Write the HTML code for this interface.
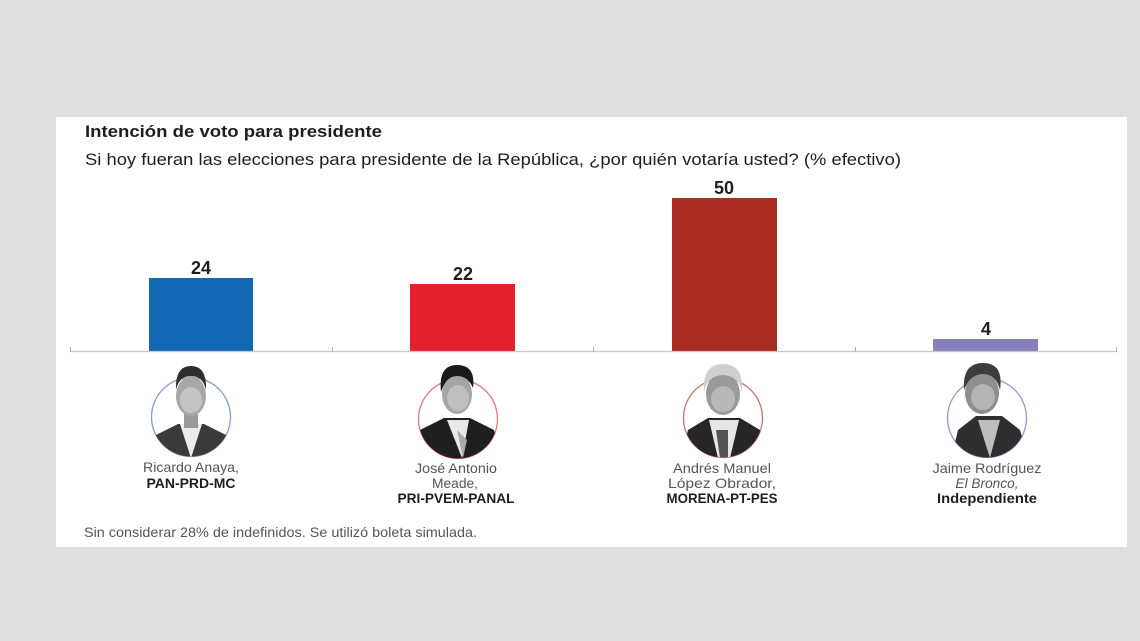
<!DOCTYPE html>
<html><head><meta charset="utf-8">
<style>
html,body{margin:0;padding:0;background:#e0e0e0;}
svg{display:block;}
text{font-family:"Liberation Sans",sans-serif;}
</style></head>
<body>
<svg width="1140" height="641" viewBox="0 0 1140 641" xmlns="http://www.w3.org/2000/svg">
<defs>
<clipPath id="c1"><circle cx="191" cy="417" r="39.5"/></clipPath>
<clipPath id="c2"><circle cx="458" cy="419" r="39.5"/></clipPath>
<clipPath id="c3"><circle cx="723" cy="418" r="39.5"/></clipPath>
<clipPath id="c4"><circle cx="987" cy="418" r="39.5"/></clipPath>
</defs>
<rect x="0" y="0" width="1140" height="641" fill="#e0e0e0"/>
<rect x="56" y="117" width="1071" height="430" fill="#ffffff"/>

<text x="85" y="137" font-size="17" font-weight="bold" fill="#1e1e1e" textLength="297" lengthAdjust="spacingAndGlyphs">Intención de voto para presidente</text>
<text x="85" y="165" font-size="17" fill="#1e1e1e" textLength="816" lengthAdjust="spacingAndGlyphs">Si hoy fueran las elecciones para presidente de la República, ¿por quién votaría usted? (% efectivo)</text>

<!-- bars -->
<rect x="149" y="278" width="104" height="73" fill="#1268b3"/>
<rect x="410" y="284" width="105" height="67" fill="#e3202e"/>
<rect x="672" y="198" width="105" height="153" fill="#a92d22"/>
<rect x="933" y="339" width="105" height="12" fill="#8680bb"/>

<g font-size="18" font-weight="bold" fill="#1e1e1e" text-anchor="middle">
<text x="201" y="274">24</text>
<text x="463" y="280">22</text>
<text x="724" y="194">50</text>
<text x="986" y="335">4</text>
</g>

<!-- axis -->
<line x1="70" y1="351.5" x2="1117" y2="351.5" stroke="#c8c8c8" stroke-width="1.2"/>
<g stroke="#b0b0b0" stroke-width="1">
<line x1="70.5" y1="347" x2="70.5" y2="352"/>
<line x1="332.5" y1="347" x2="332.5" y2="352"/>
<line x1="593.5" y1="347" x2="593.5" y2="352"/>
<line x1="855.5" y1="347" x2="855.5" y2="352"/>
<line x1="1116.5" y1="347" x2="1116.5" y2="352"/>
</g>

<!-- portrait 1 -->
<circle cx="191" cy="417" r="39.5" fill="#fff" stroke="#7f9fd0" stroke-width="1.3"/>
<g clip-path="url(#c1)">
<path d="M148 462 L154 436 L178 424 L204 424 L228 436 L234 462 Z" fill="#3a3a3a"/>
<path d="M180 424 L191 458 L202 424 Z" fill="#ececec"/>
</g>
<rect x="184" y="410" width="14" height="18" fill="#999"/>
<ellipse cx="191" cy="396" rx="15" ry="20" fill="#a8a8a8"/>
<ellipse cx="191" cy="400" rx="11" ry="13" fill="#c4c4c4"/>
<path d="M176 390 Q175 366 191 366 Q207 366 206 390 Q203 376 191 376 Q179 376 176 390 Z" fill="#2e2e2e"/>

<!-- portrait 2 -->
<circle cx="458" cy="419" r="39.5" fill="#fff" stroke="#e8767a" stroke-width="1.3"/>
<g clip-path="url(#c2)">
<path d="M413 464 L420 430 L444 418 L470 418 L494 430 L504 464 Z" fill="#1f1f1f"/>
<path d="M447 420 L462 458 L469 420 Z" fill="#e8e8e8"/>
<path d="M457 430 L463 458 L467 440 Z" fill="#aaa"/>
</g>
<ellipse cx="457" cy="394" rx="15" ry="20" fill="#a5a5a5"/>
<ellipse cx="458" cy="398" rx="11" ry="13" fill="#bfbfbf"/>
<path d="M441 392 Q438 365 457 365 Q476 365 473 388 Q468 376 457 376 Q446 376 441 392 Z" fill="#1a1a1a"/>

<!-- portrait 3 -->
<circle cx="723" cy="418" r="39.5" fill="#fff" stroke="#c8746d" stroke-width="1.3"/>
<g clip-path="url(#c3)">
<path d="M680 464 L688 430 L708 418 L740 418 L760 430 L768 464 Z" fill="#262626"/>
<path d="M709 420 L718 458 L730 458 L739 420 Z" fill="#e6e6e6"/>
<path d="M716 430 L720 458 L728 458 L728 430 Z" fill="#555"/>
</g>
<ellipse cx="723" cy="394" rx="17" ry="21" fill="#9a9a9a"/>
<ellipse cx="723" cy="399" rx="12" ry="13" fill="#b8b8b8"/>
<path d="M704 392 Q702 364 723 364 Q744 364 742 392 Q739 376 723 375 Q707 376 704 392 Z" fill="#cfcfcf"/>

<!-- portrait 4 -->
<circle cx="987" cy="418" r="39.5" fill="#fff" stroke="#9d94d2" stroke-width="1.3"/>
<g clip-path="url(#c4)">
<path d="M950 464 L958 430 L976 416 L1002 416 L1020 430 L1030 464 Z" fill="#2e2e2e"/>
<path d="M978 420 L990 458 L1000 420 Z" fill="#bdbdbd"/>
</g>
<ellipse cx="982" cy="393" rx="17" ry="21" fill="#8e8e8e"/>
<ellipse cx="983" cy="397" rx="12" ry="13" fill="#b5b5b5"/>
<path d="M964 390 Q962 363 983 363 Q1004 363 1000 390 Q996 374 983 374 Q970 374 964 390 Z" fill="#3c3c3c"/>

<!-- names -->
<g font-size="14" fill="#555" text-anchor="middle">
<text x="191" y="472" textLength="96" lengthAdjust="spacingAndGlyphs">Ricardo Anaya,</text>
<text x="456" y="473" textLength="82" lengthAdjust="spacingAndGlyphs">José Antonio</text>
<text x="455" y="488" textLength="46" lengthAdjust="spacingAndGlyphs">Meade,</text>
<text x="722" y="473" textLength="98" lengthAdjust="spacingAndGlyphs">Andrés Manuel</text>
<text x="722" y="488" textLength="108" lengthAdjust="spacingAndGlyphs">López Obrador,</text>
<text x="987" y="473" textLength="109" lengthAdjust="spacingAndGlyphs">Jaime Rodríguez</text>
<text x="987" y="488" font-style="italic" textLength="63" lengthAdjust="spacingAndGlyphs">El Bronco,</text>
</g>
<g font-size="14" font-weight="bold" fill="#1e1e1e" text-anchor="middle">
<text x="191" y="488" textLength="89" lengthAdjust="spacingAndGlyphs">PAN-PRD-MC</text>
<text x="456" y="503" textLength="117" lengthAdjust="spacingAndGlyphs">PRI-PVEM-PANAL</text>
<text x="722" y="503" textLength="111" lengthAdjust="spacingAndGlyphs">MORENA-PT-PES</text>
<text x="987" y="503" textLength="100" lengthAdjust="spacingAndGlyphs">Independiente</text>
</g>

<text x="84" y="537" font-size="14" fill="#555" textLength="393" lengthAdjust="spacingAndGlyphs">Sin considerar 28% de indefinidos. Se utilizó boleta simulada.</text>
</svg>
</body></html>
